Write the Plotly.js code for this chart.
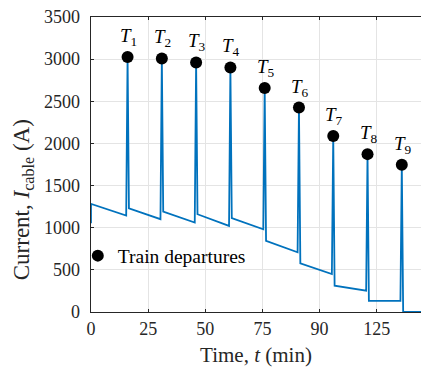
<!DOCTYPE html>
<html>
<head>
<meta charset="utf-8">
<script src="https://cdn.plot.ly/plotly-3.0.1.min.js"></script>
<style>html,body{margin:0;padding:0;overflow:hidden;background:#fff;}#chart{width:421px;height:367px;}</style>
</head>
<body>
<div id="chart"></div>
<script>
// Cable current profile (time in min, current in A)
var timeMin = [0, 0, 15.4, 16, 16.6, 30.4, 31, 31.6, 45.4, 46, 46.6, 60.4, 61, 61.6, 75.4, 76, 76.6, 90.4, 91, 91.6, 105.4, 106, 106.6, 120.4, 121, 121.6, 135.4, 136, 136.6, 145];
var currentA = [1053, 1283, 1144, 3025, 1231, 1101, 3008, 1191, 1061, 2961, 1160, 1021, 2902, 1113, 982, 2657, 843, 709, 2426, 578, 451, 2087, 312, 253, 1873, 131, 131, 1746, 0, 0];

// Train departures
var departTimes = [16, 31, 46, 61, 76, 91, 106, 121, 136];
var departPeaks = [3025, 3008, 2961, 2902, 2657, 2426, 2087, 1873, 1746];
var departLabels = ['1', '2', '3', '4', '5', '6', '7', '8', '9'];

// Axis ticks
var xTickVals = [0, 25, 50, 75, 100, 125];
var xTickText = ['0', '25', '50', '75', '90', '125'];
var yTickVals = [0, 500, 1000, 1500, 2000, 2500, 3000, 3500];

var FONT = 'Liberation Serif, Times New Roman, serif';
var AX = '#262626';

var traces = [
  {
    x: timeMin, y: currentA, type: 'scatter', mode: 'lines',
    line: {color: '#0072BD', width: 1.8},
    showlegend: false, hoverinfo: 'skip'
  },
  {
    x: departTimes, y: departPeaks, type: 'scatter', mode: 'markers',
    marker: {color: '#000000', size: 12},
    name: 'Train departures'
  }
];

var annotations = departTimes.map(function (t, i) {
  return {
    x: t, y: departPeaks[i], xref: 'x', yref: 'y',
    text: '<i>T</i><sub>' + departLabels[i] + '</sub>',
    showarrow: false, xanchor: 'center', yanchor: 'bottom',
    xshift: 1, yshift: 6,
    font: {family: FONT, size: 19, color: '#000000'}
  };
});

annotations.push({
  text: 'Current, <i>I</i><sub>cable</sub> (A)',
  xref: 'paper', yref: 'paper', x: -0.205, y: 0.38,
  xanchor: 'center', yanchor: 'middle', textangle: -90,
  showarrow: false,
  font: {family: FONT, size: 23, color: AX}
});

var layout = {
  width: 421, height: 367,
  margin: {l: 91, r: 0, t: 17, b: 55, pad: 0},
  paper_bgcolor: '#ffffff', plot_bgcolor: '#ffffff',
  font: {family: FONT, size: 18, color: AX},
  xaxis: {
    range: [0, 144.4], tickvals: xTickVals, ticktext: xTickText,
    showgrid: true, gridcolor: '#e4e4e4', gridwidth: 1,
    showline: true, linecolor: AX, linewidth: 1.3, mirror: 'ticks',
    ticks: 'inside', ticklen: 3, tickcolor: AX, tickwidth: 1,
    zeroline: false,
    tickfont: {family: FONT, size: 18, color: AX},
    title: {text: 'Time, <i>t</i> (min)', font: {family: FONT, size: 21, color: AX}, standoff: 9}
  },
  yaxis: {
    range: [0, 3500], tickvals: yTickVals,
    showgrid: true, gridcolor: '#e4e4e4', gridwidth: 1,
    showline: true, linecolor: AX, linewidth: 1.3, mirror: false,
    ticks: 'inside', ticklen: 3, tickcolor: AX, tickwidth: 1,
    ticklabelstandoff: 6,
    zeroline: false,
    tickfont: {family: FONT, size: 18, color: AX}
  },
  legend: {
    x: -0.04, y: 0.19, xanchor: 'left', yanchor: 'middle',
    bgcolor: 'rgba(0,0,0,0)', borderwidth: 0,
    font: {family: FONT, size: 19.5, color: '#000000'}
  },
  annotations: annotations,
  showlegend: true
};

Plotly.newPlot('chart', traces, layout, {displayModeBar: false, staticPlot: true});
</script>
</body>
</html>
